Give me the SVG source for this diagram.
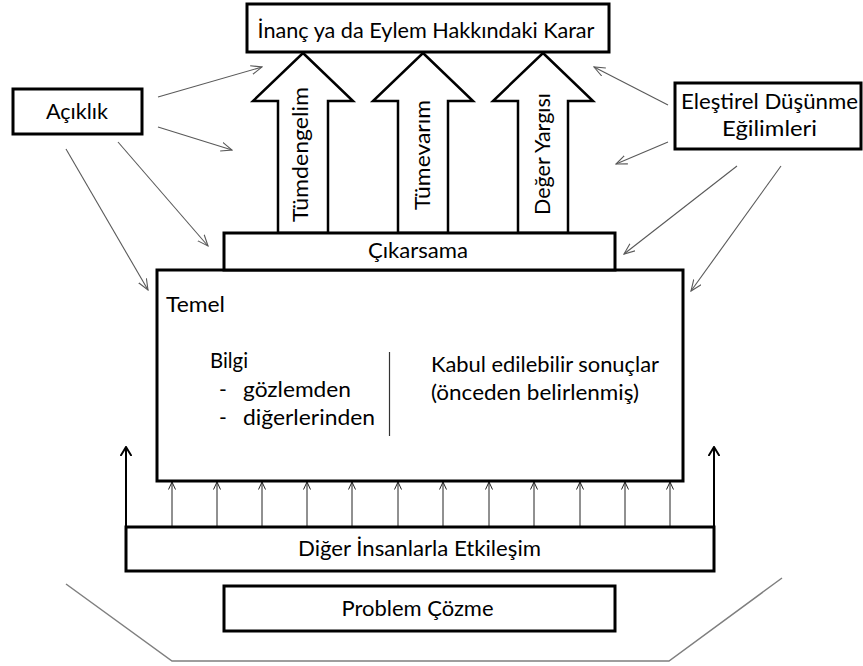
<svg xmlns="http://www.w3.org/2000/svg" width="863" height="666" viewBox="0 0 863 666">
<style>
text{font-family:Lato,"Liberation Sans",sans-serif;font-size:21px;fill:#000}
.box{fill:#fff;stroke:#000;stroke-width:3}
.blk{fill:#fff;stroke:#000;stroke-width:2.5;stroke-linejoin:miter}
.thin{stroke:#595959;stroke-width:1.1;fill:none;marker-end:url(#open)}
.small{stroke:#222;stroke-width:1;fill:none;marker-end:url(#sm)}
.big{stroke:#000;stroke-width:2;fill:none;marker-end:url(#bg)}
.mid{text-anchor:middle}
</style>
<defs>
<marker id="open" viewBox="0 0 12 10" refX="11" refY="5" markerWidth="12" markerHeight="10" markerUnits="userSpaceOnUse" orient="auto">
<path d="M0,0.5 L11,5 L0,9.5" fill="none" stroke="#595959" stroke-width="1.1"/>
</marker>
<marker id="sm" viewBox="0 0 8 8" refX="7.5" refY="4" markerWidth="8" markerHeight="8" markerUnits="userSpaceOnUse" orient="auto">
<path d="M0,0.5 L7.5,4 L0,7.5" fill="none" stroke="#222" stroke-width="1"/>
</marker>
<marker id="bg" viewBox="0 0 10 12" refX="9" refY="6" markerWidth="10" markerHeight="12" markerUnits="userSpaceOnUse" orient="auto">
<path d="M0,0.5 L9,6 L0,11.5" fill="none" stroke="#000" stroke-width="2"/>
</marker>
</defs>

<g id="connectors">
<line class="thin" x1="158" y1="97" x2="262" y2="67"/>
<line class="thin" x1="158" y1="127" x2="232" y2="150"/>
<line class="thin" x1="118" y1="142" x2="208" y2="246"/>
<line class="thin" x1="66" y1="149" x2="148" y2="290"/>
<line class="thin" x1="668" y1="105" x2="594" y2="67"/>
<line class="thin" x1="668" y1="142" x2="616" y2="164"/>
<line class="thin" x1="737" y1="166" x2="624" y2="254"/>
<line class="thin" x1="781" y1="166" x2="691" y2="291"/>
<line class="small" x1="172" y1="526" x2="172" y2="482"/>
<line class="small" x1="217" y1="526" x2="217" y2="482"/>
<line class="small" x1="262" y1="526" x2="262" y2="482"/>
<line class="small" x1="307" y1="526" x2="307" y2="482"/>
<line class="small" x1="352" y1="526" x2="352" y2="482"/>
<line class="small" x1="398" y1="526" x2="398" y2="482"/>
<line class="small" x1="443" y1="526" x2="443" y2="482"/>
<line class="small" x1="489" y1="526" x2="489" y2="482"/>
<line class="small" x1="534" y1="526" x2="534" y2="482"/>
<line class="small" x1="580" y1="526" x2="580" y2="482"/>
<line class="small" x1="625" y1="526" x2="625" y2="482"/>
<line class="small" x1="670" y1="526" x2="670" y2="482"/>
<line class="big" x1="126" y1="526" x2="126" y2="447"/>
<line class="big" x1="714" y1="526" x2="714" y2="447"/>
<polyline points="66,584 172,661 669,661 782,578" fill="none" stroke="#7f7f7f" stroke-width="1.5"/>
</g>

<g id="karar">
<rect class="box" x="247" y="4" width="362" height="48"/>
<text class="mid" x="426" y="38" textLength="337" lengthAdjust="spacingAndGlyphs">İnanç ya da Eylem Hakkındaki Karar</text>
</g>

<g id="tumdengelim">
<polygon class="blk" points="303,53 353,101 328,101 328,233 278,233 278,101 253,101"/>
<text class="mid" transform="translate(308,154.5) rotate(-90)" textLength="135" lengthAdjust="spacingAndGlyphs">Tümdengelim</text>
</g>
<g id="tumevarim">
<polygon class="blk" points="423,53 473,101 448,101 448,233 398,233 398,101 373,101"/>
<text class="mid" transform="translate(430,155) rotate(-90)" textLength="110" lengthAdjust="spacingAndGlyphs">Tümevarım</text>
</g>
<g id="deger">
<polygon class="blk" points="543,53 593,101 568,101 568,233 518,233 518,101 493,101"/>
<text class="mid" transform="translate(550,154) rotate(-90)" textLength="122" lengthAdjust="spacingAndGlyphs">Değer Yargısı</text>
</g>

<g id="aciklik">
<rect class="box" x="13" y="89" width="129" height="45"/>
<text class="mid" x="77" y="119" textLength="62" lengthAdjust="spacingAndGlyphs">Açıklık</text>
</g>

<g id="elestirel">
<rect class="box" x="675" y="83" width="186" height="66"/>
<text class="mid" x="769.5" y="109" textLength="177" lengthAdjust="spacingAndGlyphs">Eleştirel Düşünme</text>
<text class="mid" x="769.5" y="136" textLength="95" lengthAdjust="spacingAndGlyphs">Eğilimleri</text>
</g>

<g id="temel">
<rect class="box" x="157" y="270" width="526" height="211"/>
<text x="166" y="312" textLength="59" lengthAdjust="spacingAndGlyphs">Temel</text>
<text x="210" y="368" textLength="38" lengthAdjust="spacingAndGlyphs">Bilgi</text>
<text x="219" y="397">-</text>
<text x="243" y="397" textLength="108" lengthAdjust="spacingAndGlyphs">gözlemden</text>
<text x="219" y="425">-</text>
<text x="243" y="425" textLength="132" lengthAdjust="spacingAndGlyphs">diğerlerinden</text>
<line x1="389.5" y1="352" x2="389.5" y2="436" stroke="#333" stroke-width="1.2"/>
<text x="431" y="372" textLength="228" lengthAdjust="spacingAndGlyphs">Kabul edilebilir sonuçlar</text>
<text x="431" y="400" textLength="208" lengthAdjust="spacingAndGlyphs">(önceden belirlenmiş)</text>
</g>

<g id="cikarsama">
<rect class="box" x="224" y="233" width="391" height="37"/>
<text class="mid" x="418" y="258" textLength="100" lengthAdjust="spacingAndGlyphs">Çıkarsama</text>
</g>

<g id="etkilesim">
<rect class="box" x="126" y="527" width="588" height="44"/>
<text class="mid" x="419.5" y="556" textLength="243" lengthAdjust="spacingAndGlyphs">Diğer İnsanlarla Etkileşim</text>
</g>

<g id="problem">
<rect class="box" x="224" y="586" width="391" height="45"/>
<text class="mid" x="417.5" y="616" textLength="152" lengthAdjust="spacingAndGlyphs">Problem Çözme</text>
</g>
</svg>
